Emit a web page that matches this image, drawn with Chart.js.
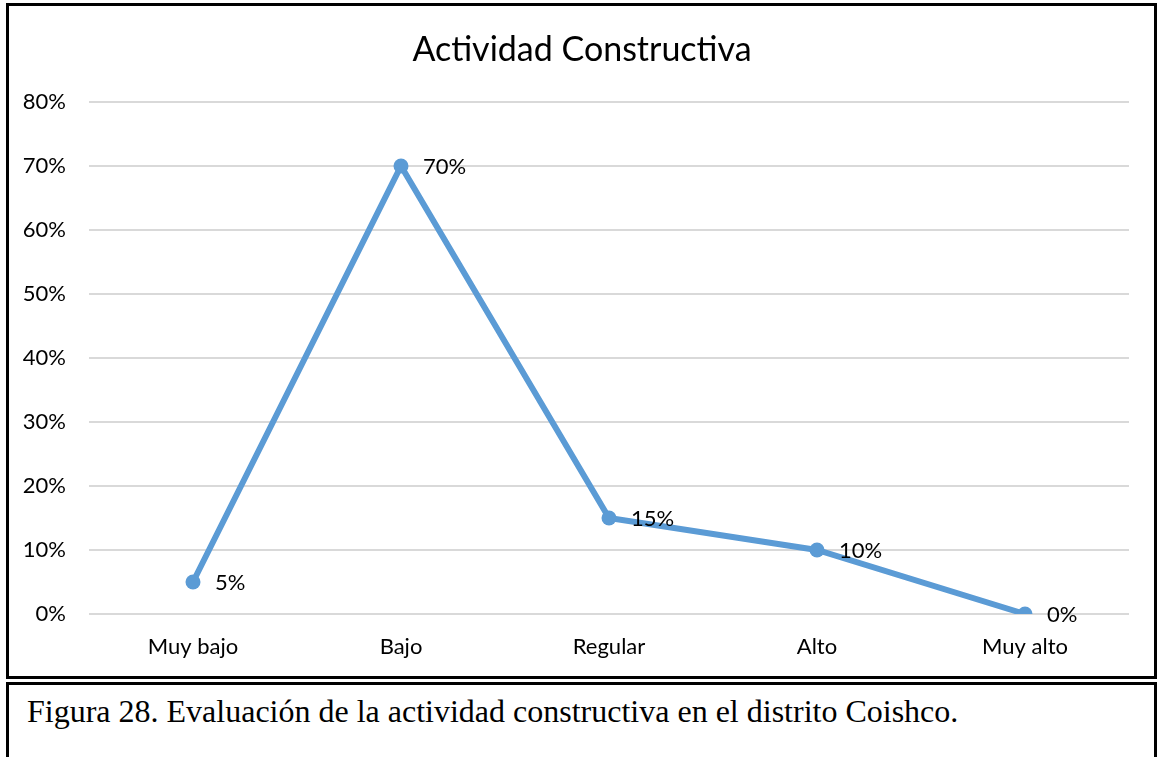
<!DOCTYPE html>
<html>
<head>
<meta charset="utf-8">
<script src="https://cdn.jsdelivr.net/npm/chart.js@4.4.1/dist/chart.umd.min.js"></script>
<style>
  body { margin: 0; background: #fff; width: 1158px; height: 757px; overflow: hidden; position: relative; }
  #wrap { position: absolute; left: 0; top: 0; width: 1158px; height: 680px; }
  .frame { position: absolute; border: 3px solid #000; box-sizing: border-box; }
  #chartFrame { left: 6px; top: 3px; width: 1151px; height: 676px; pointer-events: none; }
  #captionFrame { left: 6px; top: 682px; width: 1151px; height: 90px; background: #fff; }
  #caption { position: absolute; left: 18px; top: 8px; font-family: "Liberation Serif", "Times New Roman", serif; font-size: 32px; color: #000; white-space: nowrap; }
</style>
</head>
<body>
<div id="wrap"><canvas id="actividad-constructiva"></canvas></div>
<div class="frame" id="chartFrame"></div>
<div class="frame" id="captionFrame"><div id="caption">Figura 28. Evaluación de la actividad constructiva en el distrito Coishco.</div></div>
<script>
const categorias = ['Muy bajo', 'Bajo', 'Regular', 'Alto', 'Muy alto'];
const porcentajes = [5, 70, 15, 10, 0];
const ticksY = [0, 10, 20, 30, 40, 50, 60, 70, 80];
const titulo = 'Actividad Constructiva';

const fuente = 'Lato, Calibri, sans-serif';
const azul = '#5B9BD5';

// etiquetas de datos a la derecha de cada punto
const etiquetas = {
  id: 'etiquetas',
  afterDatasetsDraw(chart) {
    const ctx = chart.ctx;
    const meta = chart.getDatasetMeta(0);
    ctx.save();
    ctx.font = '22px ' + fuente;
    ctx.fillStyle = '#000';
    ctx.textAlign = 'left';
    ctx.textBaseline = 'middle';
    meta.data.forEach((pt, i) => {
      ctx.fillText(porcentajes[i] + '%', pt.x + 22, pt.y + 1);
    });
    ctx.restore();
  }
};

// titulo centrado en el marco, no en el area del grafico
const tituloCentrado = {
  id: 'tituloCentrado',
  afterDraw(chart) {
    const ctx = chart.ctx;
    ctx.save();
    ctx.font = '34px ' + fuente;
    ctx.fillStyle = '#000';
    ctx.textAlign = 'center';
    ctx.textBaseline = 'middle';
    ctx.fillText(titulo, 582, 50);
    ctx.restore();
  }
};

const renderGrafico = () => {
  const canvas = document.getElementById('actividad-constructiva');
  if (!canvas) return console.error('Canvas no encontrado');
  const ctx = canvas.getContext('2d');

  new Chart(ctx, {
    type: 'line',
    data: {
      labels: categorias,
      datasets: [{
        label: titulo,
        data: porcentajes,
        borderColor: azul,
        backgroundColor: azul,
        borderWidth: 6,
        pointRadius: 7.5,
        pointHoverRadius: 7.5,
        pointBorderWidth: 0,
        tension: 0
      }]
    },
    options: {
      responsive: true,
      maintainAspectRatio: false,
      animation: false,
      layout: { padding: { left: 0, right: 29, top: 102, bottom: 0 } },
      plugins: {
        legend: { display: false },
        tooltip: { enabled: false },
        title: { display: false }
      },
      scales: {
        x: {
          offset: true,
          grid: { display: false, drawTicks: false },
          border: { display: false },
          ticks: { color: '#000', font: { family: fuente, size: 22 }, padding: 20 },
          afterFit: (s) => { s.height = 66; }
        },
        y: {
          min: 0,
          max: 80,
          afterBuildTicks: (s) => { s.ticks = ticksY.map(v => ({ value: v })); },
          grid: { color: '#d9d9d9', lineWidth: 2, drawTicks: false },
          border: { display: false },
          ticks: { color: '#000', font: { family: fuente, size: 22 }, padding: 23, callback: (v) => v + '%' },
          afterFit: (s) => { s.width = 89; }
        }
      }
    },
    plugins: [etiquetas, tituloCentrado]
  });
};

renderGrafico();
</script>
</body>
</html>
